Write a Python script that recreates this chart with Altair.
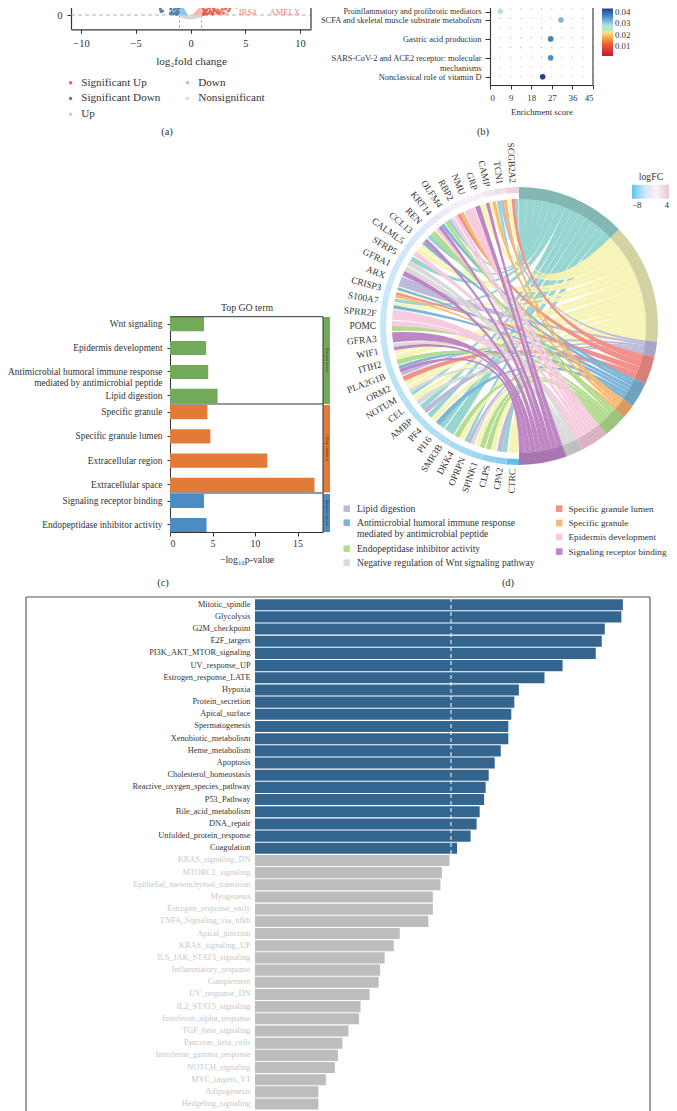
import math
import altair as alt
import pandas as pd

FONT = "Liberation Serif"
INK = "#333333"
W, H = 661, 1103

def PX(v): return v - 8
def PY(v): return v - 8

# ---------- panel (a) volcano ----------
sig_up = [(1.1,.1),(1.2,.3),(1.15,.6),(1.3,.9),(1.25,1.2),(1.4,.2),(1.5,.5),(1.45,.8),(1.6,1.1),(1.55,1.4),(1.7,.2),(1.8,.4),
          (1.75,.7),(1.9,1.0),(1.85,1.3),(2.0,.3),(2.1,.6),(2.05,.15),(2.2,.45),(2.3,.8),(2.4,.25),(2.5,.5),(2.7,.3),(2.9,.55),
          (3.0,.2),(3.2,.6),(3.5,.45),(3.6,.7),(4.2,.8),(1.12,1.0),(1.35,.45),(1.65,.75),(1.22,.05),(1.5,.1),(1.95,.1),(2.6,.15)]
sig_down = [(-2.75,.6),(-2.6,.9),(-2.55,.4),(-2.7,.35),(-2.0,1.2),(-1.95,.9),(-1.85,1.35),(-1.8,.6),(-1.75,1.0),(-1.7,.3),
            (-1.6,1.3),(-1.55,.8),(-1.5,.5),(-1.45,1.1),(-1.4,.2),(-1.35,.7),(-1.3,1.2),(-1.25,.4),(-1.2,.9),(-1.15,.15),
            (-1.1,.6),(-1.05,1.0),(-1.02,.3),(-1.0,.75),(-1.6,.1),(-1.85,.15),(-1.3,.05)]
up_pts = [(.35,.02),(.4,.1),(.5,.2),(.55,.05),(.6,.3),(.7,.15),(.75,.5),(.8,.1),(.85,.35),(.9,.6),(.95,.2),(.65,.4),(.45,.06),(.98,.8)]
down_pts = [(-.95,.1),(-.9,.5),(-.85,.2),(-.8,.7),(-.75,.05),(-.7,.35),(-.65,.15),(-.6,.45),(-.55,.05),(-.5,.25),(-.45,.1),
            (-.4,.02),(-.85,.4),(-.9,.85),(-.7,.6),(-.6,.2)]
nonsig_pts = [(-.9,-.1),(-.8,-.15),(-.7,-.2),(-.6,-.1),(-.5,-.25),(-.4,-.2),(-.3,-.3),(-.2,-.15),(-.1,-.28),(0,-.3),(.1,-.25),
              (.2,-.3),(.3,-.2),(.4,-.27),(.5,-.15),(.6,-.2),(.7,-.12),(.8,-.18),(.9,-.08),(-.25,-.08),(.25,-.1)]
volcano_groups = ["Significant Up", "Significant Down", "Up", "Down", "Nonsignificant"]
volcano_colors = ["#e8503f", "#3f74a8", "#f5b7a5", "#86c8ec", "#d5d5d5"]
volcano_labels = [("IRS4", 5.2, .3), ("AMELX", 8.6, .35), ("A553", 2.6, .35)]

# ---------- panel (b) ----------
b_terms = ["Proinflammatory and profibrotic mediators", "SCFA and skeletal muscle substrate metabolism",
           "Gastric acid production", "SARS-CoV-2 and ACE2 receptor: molecular|mechanisms", "Nonclassical role of vitamin D"]
b_scores = [4.5, 31, 26.5, 26.5, 23]
b_pvalues = [.030, .032, .037, .036, .043]
b_ticks = [0, 9, 18, 27, 36, 45]
b_grid_x = [4.5 * i for i in range(11)]
b_grid_rows = [.5, 1, 1.5, 2, 2.5, 3, 3.5, 4]

# ---------- panel (c) ----------
c_bp = ["Wnt signaling", "Epidermis development",
        "Antimicrobial humoral immune response|mediated by antimicrobial peptide", "Lipid digestion"]
c_bp_v = [4.0, 4.25, 4.5, 5.6]
c_cc = ["Specific granule", "Specific granule lumen", "Extracellular region", "Extracellular space"]
c_cc_v = [4.4, 4.75, 11.45, 17.0]
c_mf = ["Signaling receptor binding", "Endopeptidase inhibitor activity"]
c_mf_v = [4.0, 4.3]

# ---------- panel (d) ----------
term_codes = ["T", "Y", "L", "S", "B", "O", "G", "P", "W", "U"]
term_edges = [0, 46, 96.5, 102.8, 114.5, 125, 131, 141, 153, 160, 180]
term_fill = ["#97d5d1", "#f6f4b7", "#bdb9da", "#f2908a", "#7fb6d8", "#f8b974", "#b3dc8e", "#f8cce0", "#d9d9d9", "#bf86c5"]
term_band = ["#82b7b3", "#d2d2a2", "#a8a5c6", "#d97f79", "#70a2c0", "#d89c5f", "#9cc47c", "#d9b2c4", "#bfbfbf", "#a875ae"]
genes = ["CTRC","CPA2","CLPS","SPINK1","OPRPN","DKK4","SMR3B","PI16","PF4","AMBP","CEL","NOTUM","ORM2","PLA2G1B","ITIH2",
         "WIF1","GFRA3","POMC","SPRR2F","S100A7","CRISP3","ARX","GFRA1","SFRP5","CALML5","CCL13","REN","KRT14","OLFM4",
         "RBP2","NMU","GRP","CAMP","TCN1","SCGB2A2"]
gene_fc = [-8,-6.6,-6.2,-5.6,-5.4,-5.2,-5,-4.9,-4.8,-4.7,-4.6,-4.5,-4.5,-4.4,-4.3,-4.2,-4.2,-4.1,-4,-4,-3.9,-3.8,-3.6,-3.5,
           -3.2,-3,-2.6,-2.2,-1.6,-1,-.6,.2,1,1.8,3]
gene_terms = ["Y","TL","YG","GY","WLT","YG","T","TB","YT","LT","WY","TWY","YS","LUB","GY","YUW","U","GP","P","BYT","OSYB",
              "L","UW","WT","PY","YBU","TG","PUB","GTP","PSO","P","UY","UYO","TLO","YST"]
legend_left = [("Lipid digestion", "#bdb9da"),
               ("Antimicrobial humoral immune response|mediated by antimicrobial peptide", "#7fb6d8"),
               ("Endopeptidase inhibitor activity", "#b3dc8e"),
               ("Negative regulation of Wnt signaling pathway", "#d9d9d9")]
legend_right = [("Specific granule lumen", "#f2908a"), ("Specific granule", "#f8b974"),
                ("Epidermis development", "#f8cce0"), ("Signaling receptor binding", "#bf86c5")]

# ---------- panel (e) ----------
e_sig = ["Mitotic_spindle","Glycolysis","G2M_checkpoint","E2F_targets","PI3K_AKT_MTOR_signaling","UV_response_UP",
         "Estrogen_response_LATE","Hypoxia","Protein_secretion","Apical_surface","Spermatogenesis","Xenobiotic_metabolism",
         "Heme_metabolism","Apoptosis","Cholesterol_homeostasis","Reactive_oxygen_species_pathway","P53_Pathway",
         "Bile_acid_metabolism","DNA_repair","Unfolded_protein_response","Coagulation"]
e_sig_v = [2.44,2.43,2.32,2.30,2.26,2.04,1.92,1.75,1.72,1.70,1.68,1.68,1.63,1.59,1.55,1.53,1.52,1.49,1.47,1.43,1.34]
e_ns = ["KRAS_signaling_DN","MTORC1_signaling","Epithelial_mesenchymal_transition","Myogenesis","Estrogen_response_early",
        "TNFA_Signaling_via_nfkb","Apical_junction","KRAS_signaling_UP","IL6_JAK_STAT3_signaling","Inflammatory_response",
        "Complement","UV_response_DN","IL2_STAT5_signaling","Interferon_alpha_response","TGF_beta_signaling",
        "Pancreas_beta_cells","Interferon_gamma_response","NOTCH_signaling","MYC_targets_V1","Adipogenesis","Hedgehog_signaling"]
e_ns_v = [1.29,1.24,1.23,1.18,1.18,1.15,.96,.92,.86,.83,.82,.76,.70,.69,.62,.58,.55,.53,.47,.42,.42]

layers = []

def txt(s, x, y, size=10, align="center", color=INK, angle=0, baseline="middle"):
    return alt.Chart(pd.DataFrame({"s": [s]})).mark_text(
        font=FONT, fontSize=size, align=align, baseline=baseline, color=color, angle=angle, lineBreak="|", lineHeight=size * 1.15
    ).encode(x=alt.value(PX(x)), y=alt.value(PY(y)), text="s:N")

def hline(x0, x1, y, color=INK, width=1.0, dash=None):
    m = dict(color=color, strokeWidth=width)
    if dash: m["strokeDash"] = dash
    return alt.Chart(pd.DataFrame({"k": [0]})).mark_rule(**m).encode(
        x=alt.value(PX(x0)), x2=alt.value(PX(x1)), y=alt.value(PY(y)))

def vline(x, y0, y1, color=INK, width=1.0, dash=None):
    m = dict(color=color, strokeWidth=width)
    if dash: m["strokeDash"] = dash
    return alt.Chart(pd.DataFrame({"k": [0]})).mark_rule(**m).encode(
        x=alt.value(PX(x)), y=alt.value(PY(y0)), y2=alt.value(PY(y1)))

def box(x0, x1, y0, y1, color):
    return alt.Chart(pd.DataFrame({"k": [0]})).mark_rect(color=color).encode(
        x=alt.value(PX(x0)), x2=alt.value(PX(x1)), y=alt.value(PY(y0)), y2=alt.value(PY(y1)))

# ===== (a) =====
a_x = alt.Scale(domain=[-10.91, 11.0], range=[PX(71), PX(311)])
a_y = alt.Scale(domain=[-1.43, 3.0], range=[PY(29.3), PY(-15)])
rows = []
for name, pts in zip(volcano_groups, [sig_up, sig_down, up_pts, down_pts, nonsig_pts]):
    rows += [{"fc": p[0], "lp": p[1], "group": name} for p in pts]
vdf = pd.DataFrame(rows)
layers.append(hline(71, 311, 15, "#a8a8a8", 0.9, [4, 3]))
layers += [vline(71 + (v + 10.91) * 240 / 21.91, 15, 29, "#a8a8a8", 0.9, [3, 2]) for v in (-1, 1)]
layers.append(alt.Chart(vdf).mark_circle(size=9, opacity=.9).encode(
    x=alt.X("fc:Q", scale=a_x, axis=alt.Axis(orient="bottom", offset=-(H - PY(29.3)), values=[-10, -5, 0, 5, 10], tickSize=4,
            title="log₂fold change", titleFontSize=11.2, titleFontWeight="normal", labelFontSize=10.5, titlePadding=7, labelPadding=5,
            domainColor=INK, tickColor=INK, domainWidth=1.2, labelColor=INK, titleColor=INK, format="d")),
    y=alt.Y("lp:Q", scale=a_y, axis=alt.Axis(orient="left", offset=-PX(71), values=[0], tickSize=4, title=None, labelFontSize=10.5,
            domainColor=INK, tickColor=INK, domainWidth=1.2, labelColor=INK, format="d", labelPadding=5)),
    color=alt.Color("group:N", scale=alt.Scale(domain=volcano_groups, range=volcano_colors),
                    legend=alt.Legend(orient="none", legendX=PX(65), legendY=PY(77), columns=2, title=None, symbolType="circle",
                                      symbolSize=12, labelFont=FONT, labelFontSize=11.2, labelColor=INK, rowPadding=3.8,
                                      columnPadding=21, labelOffset=5))))
layers.append(alt.Chart(pd.DataFrame(volcano_labels, columns=["s", "fc", "lp"])).mark_text(
    font=FONT, fontSize=8.5, color="#ef7f74", align="center").encode(
    x=alt.X("fc:Q", scale=a_x, axis=None), y=alt.Y("lp:Q", scale=a_y, axis=None), text="s:N"))
layers.append(vline(311, 0, 29.3, INK, 1.2))
layers.append(txt("(a)", 167, 132, 10.5))

# ===== (b) =====
B_FONT = 8.4
b_x = alt.Scale(domain=[0, 45], range=[PX(490), PX(593)])
b_band = alt.Scale(domain=b_terms[1:], range=[PY(10.53), PY(86.2)], paddingInner=0, paddingOuter=0)
b_top = alt.Scale(domain=b_terms[:1], range=[PY(7), PY(16)], paddingInner=0, paddingOuter=0)
b_color = alt.Scale(domain=[.0015, .012, .022, .028, .036, .043],
                    range=["#c4172c", "#ee5a36", "#fbe08a", "#b5e2ea", "#4c8fbe", "#27408b"])
b_grid = pd.DataFrame([{"x": x, "r": r} for x in b_grid_x for r in b_grid_rows])
layers.append(alt.Chart(b_grid).mark_circle(size=1.2, color="#8a8a8a", opacity=.8).encode(
    x=alt.X("x:Q", scale=b_x, axis=None),
    y=alt.Y("r:Q", scale=alt.Scale(domain=[0, 4], range=[PY(-1), PY(76.8)]), axis=None)))
bdf = pd.DataFrame({"term": b_terms, "score": b_scores, "p": b_pvalues})
layers.append(alt.Chart(bdf.iloc[:1]).mark_circle(size=32, opacity=1, color="#b5e2ea").encode(
    x=alt.X("score:Q", scale=b_x, axis=None),
    y=alt.Y("term:N", scale=b_top, sort=None, axis=alt.Axis(orient="left", offset=-PX(490), tickSize=5, title=None,
            labelFontSize=8.0, labelColor=INK, labelPadding=4, domainColor=INK, tickColor=INK, labelLimit=300, domainWidth=1.1))))
layers.append(alt.Chart(bdf.iloc[1:]).mark_circle(size=32, opacity=1).encode(
    x=alt.X("score:Q", scale=b_x, axis=alt.Axis(orient="bottom", offset=-(H - PY(85)), values=b_ticks, tickSize=4, title="Enrichment score",
            titleFontSize=8.8, titleFontWeight="normal", labelFontSize=8.8, titlePadding=6, domainColor=INK, tickColor=INK,
            labelColor=INK, titleColor=INK, labelPadding=4, domainWidth=1.1)),
    y=alt.Y("term:N", scale=b_band, sort=None, axis=alt.Axis(orient="left", offset=-PX(490), tickSize=5, title=None, labelFontSize=B_FONT,
            labelExpr="split(datum.label,'|')", labelColor=INK, labelPadding=4, domainColor=INK, tickColor=INK, labelLimit=300,
            domainWidth=1.1, labelLineHeight=9.5)),
    color=alt.Color("p:Q", scale=b_color,
                    legend=alt.Legend(orient="none", legendX=PX(602), legendY=PY(8.5), title=None, gradientLength=47.5, gradientThickness=11,
                                      values=[.01, .02, .03, .04], format=".2f", labelFont=FONT, labelFontSize=8.8, labelColor=INK))))
layers.append(vline(593, 0, 85, INK, 1.1))
layers.append(txt("(b)", 483, 132, 10.5))

# ===== (c) =====
c_x = alt.Scale(domain=[0, 18], range=[PX(170), PX(323)])
def c_panel(names, vals, color, y0, y1, show_x=False):
    df = pd.DataFrame({"t": names, "v": vals})
    xaxis = None
    if show_x:
        xaxis = alt.Axis(orient="bottom", offset=-(H - PY(532)), values=[0, 5, 10, 15], tickSize=4, title="−log₁₀p-value",
                         titleFontSize=9.8, titleFontWeight="normal", labelFontSize=9.8, labelColor=INK, titleColor=INK, titlePadding=7,
                         domainColor=INK, tickColor=INK)
    return alt.Chart(df).mark_bar(color=color).encode(
        x=alt.X("v:Q", scale=c_x, axis=xaxis),
        y=alt.Y("t:N", sort=None, scale=alt.Scale(domain=names, range=[PY(y0), PY(y1)], paddingInner=.41, paddingOuter=0),
                axis=alt.Axis(orient="left", offset=-PX(170), tickSize=3, title=None, labelFontSize=9.4, labelLimit=300, labelColor=INK,
                              labelExpr="split(datum.label,'|')", labelPadding=5, domainColor=INK, tickColor=INK, labelLineHeight=11)))
layers.append(c_panel(c_bp, c_bp_v, "#71ab5a", 317, 403))
layers.append(c_panel(c_cc, c_cc_v, "#e27b38", 405, 492))
layers.append(c_panel(c_mf, c_mf_v, "#4c8cc4", 494, 532, True))
layers += [box(323, 330, 317, 404, "#71ab5a"), box(323, 330, 405, 492.5, "#e27b38"), box(323, 330, 494, 532, "#4c8cc4")]
layers += [hline(170, 323, 316.7), hline(170, 323, 404), hline(170, 323, 493), vline(323, 316.7, 532)]
layers += [txt("Biological process", 326.5, 360, 3.4, angle=90), txt("Cellular component", 326.5, 448, 3.4, angle=90),
           txt("Molecular function", 326.5, 513, 3.4, angle=90)]
layers.append(txt("Top GO term", 247, 308, 9.8))
layers.append(txt("(c)", 163, 583, 10.5))

# ===== (d) =====
CX, CY = 519, 326
R_OUT, R_GENE, R_RIB = 139, 133, 127
theta_scale = alt.Scale(domain=[0, 360], range=[0, 2 * math.pi])
n = len(genes)
gene_w = 180 / n

def pt(deg, r):
    a = math.radians(deg)
    return r * math.sin(a), -r * math.cos(a)

term_members = {c: [] for c in term_codes}
for gi, codes in enumerate(gene_terms):
    for c in codes:
        term_members[c].append(gi)
term_slots = {}
for ti, c in enumerate(term_codes):
    members = sorted(term_members[c], reverse=True)
    step = (term_edges[ti + 1] - term_edges[ti]) / max(len(members), 1)
    for k, gi in enumerate(members):
        term_slots[(c, gi)] = (term_edges[ti] + k * step, term_edges[ti] + (k + 1) * step)
ribbons = []
for gi, codes in enumerate(gene_terms):
    g0 = 180 + gi * gene_w + .25
    sub = (gene_w - .5) / len(codes)
    for k, c in enumerate(codes):
        a0, a1 = g0 + k * sub, g0 + (k + 1) * sub
        t0, t1 = term_slots[(c, gi)]
        p1, p2, p3, p4 = pt(t0, R_RIB), pt(t1, R_RIB), pt(a0, R_RIB), pt(a1, R_RIB)
        path = (f"M{p1[0]:.2f},{p1[1]:.2f}A{R_RIB},{R_RIB} 0 0 1 {p2[0]:.2f},{p2[1]:.2f}"
                f"Q0,0 {p3[0]:.2f},{p3[1]:.2f}A{R_RIB},{R_RIB} 0 0 1 {p4[0]:.2f},{p4[1]:.2f}"
                f"Q0,0 {p1[0]:.2f},{p1[1]:.2f}Z")
        ribbons.append({"order": term_codes.index(c), "path": path, "color": term_fill[term_codes.index(c)]})
rdf = pd.DataFrame(sorted(ribbons, key=lambda r: r["order"]))
layers.append(alt.Chart(rdf).mark_point(filled=True, opacity=1, strokeWidth=0).encode(
    x=alt.value(PX(CX)), y=alt.value(PY(CY)), size=alt.value(4),
    shape=alt.Shape("path:N", scale=None), color=alt.Color("color:N", scale=None)))
tdf = pd.DataFrame({"t0": term_edges[:-1], "t1": term_edges[1:], "c": term_band})
layers.append(alt.Chart(tdf).mark_arc(radius=R_OUT, radius2=R_RIB).encode(
    x=alt.value(PX(CX)), y=alt.value(PY(CY)),
    theta=alt.Theta("t0:Q", scale=theta_scale, stack=None), theta2="t1:Q", color=alt.Color("c:N", scale=None)))
gdf = pd.DataFrame({"g": genes, "fc": gene_fc, "t0": [180 + i * gene_w for i in range(n)], "t1": [180 + (i + 1) * gene_w for i in range(n)]})
gdf["mid"] = (gdf.t0 + gdf.t1) / 2
gdf["ang"] = (gdf.mid - 270) % 360
layers.append(alt.Chart(gdf).mark_arc(radius=R_OUT, radius2=R_GENE).encode(
    x=alt.value(PX(CX)), y=alt.value(PY(CY)),
    theta=alt.Theta("t0:Q", scale=theta_scale, stack=None), theta2="t1:Q",
    color=alt.Color("fc:Q", scale=alt.Scale(domain=[-8, -4, 0, 4], range=["#5fc0ee", "#c6e7f6", "#f7f3f6", "#edc4d2"]),
                    legend=alt.Legend(orient="none", legendX=PX(632), legendY=PY(172), direction="horizontal", title="logFC",
                                      titleFont=FONT, titleFontSize=9.8, titleFontWeight="normal", titleColor=INK, titleAnchor="middle",
                                      gradientLength=37, gradientThickness=14, values=[-8, 4], labelFont=FONT, labelFontSize=9,
                                      labelColor=INK, titlePadding=3))))
layers.append(alt.Chart(gdf).mark_text(font=FONT, fontSize=9.4, align="right", baseline="middle", color=INK, radius=143).encode(
    x=alt.value(PX(CX)), y=alt.value(PY(CY)),
    theta=alt.Theta("mid:Q", scale=theta_scale, stack=None), angle=alt.Angle("ang:Q", scale=None), text="g:N"))
left_y = [508.7, 522.7, 548.7, 562.7]
right_y = [508.7, 523, 537, 551.6]
for (label, col), y in zip(legend_left, left_y):
    layers.append(box(343.5, 350, y - 3.3, y + 3.3, col))
    layers.append(txt(label, 357, y, 9.6, align="left"))
for (label, col), y in zip(legend_right, right_y):
    layers.append(box(556, 562.5, y - 3.3, y + 3.3, col))
    layers.append(txt(label, 568.5, y, 9.2, align="left"))
layers.append(txt("(d)", 508, 583, 10.5))

# ===== (e) =====
e_x = alt.Scale(domain=[0, 2.6], range=[PX(255), PX(647)])
STEP = 12.18
TOP = 598.6
def e_panel(names, vals, color, label_color, y0):
    df = pd.DataFrame({"t": names, "v": vals})
    return alt.Chart(df).mark_bar(color=color).encode(
        x=alt.X("v:Q", scale=e_x, axis=None),
        y=alt.Y("t:N", sort=None, scale=alt.Scale(domain=names, range=[PY(y0), PY(y0 + STEP * len(names))], paddingInner=.09, paddingOuter=.045),
                axis=alt.Axis(orient="left", offset=-PX(255), ticks=False, domain=False, title=None, labelFontSize=8.3, labelLimit=300,
                              labelColor=label_color, labelPadding=5)))
layers.append(e_panel(e_sig, e_sig_v, "#33658f", "#333333", TOP))
layers.append(e_panel(e_ns, e_ns_v, "#bdbdbd", "#c8c8c8", TOP + STEP * len(e_sig)))
layers.append(alt.Chart(pd.DataFrame({"v": [1.3]})).mark_rule(color="white", strokeWidth=1, strokeDash=[4, 3]).encode(
    x=alt.X("v:Q", scale=e_x, axis=None), y=alt.value(PY(598)), y2=alt.value(PY(854))))
layers += [hline(26, 650, 597, "#555555", 1.1), vline(26, 597, 1111, "#555555", 1.1), vline(650, 597, 1111, "#555555", 1.1)]

chart = alt.layer(*layers).resolve_scale(
    x="independent", y="independent", color="independent", theta="independent", shape="independent"
).resolve_axis(x="independent", y="independent").resolve_legend(color="independent").properties(
    width=W, height=H, autosize=alt.AutoSizeParams(type="none"), padding=0
).configure_view(stroke=None).configure_axis(grid=False, labelFont=FONT, titleFont=FONT).configure_legend(labelFont=FONT)

chart.save("out.html", embed_options={"renderer": "svg", "actions": False})
